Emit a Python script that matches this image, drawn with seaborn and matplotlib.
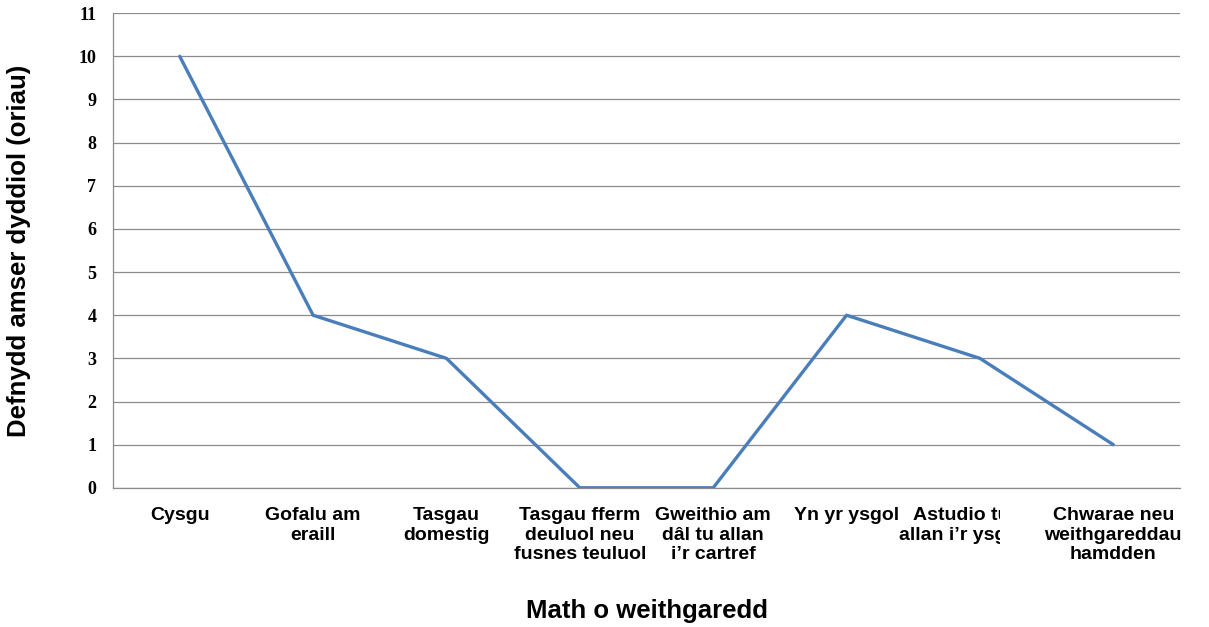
import matplotlib
matplotlib.use('Agg')
import matplotlib.pyplot as plt
import matplotlib.transforms as mtransforms
import pandas as pd
import seaborn as sns

# activity categories and daily hours
categories = ['Cysgu', 'Gofalu am\neraill', 'Tasgau\ndomestig',
              'Tasgau fferm\ndeuluol neu\nfusnes teuluol',
              'Gweithio am\ndâl tu allan\ni\u2019r cartref', 'Yn yr ysgol',
              'Astudio tu\nallan i\u2019r ysgol', 'Chwarae neu\nweithgareddau\nhamdden']
hours = [10, 4, 3, 0, 0, 4, 3, 1]
yticks = list(range(0, 12))

df = pd.DataFrame({'pos': range(len(categories)), 'hours': hours})

sns.set_style('white')
plt.rcParams['font.family'] = ['Liberation Sans', 'DejaVu Sans']
plt.rcParams['text.color'] = 'black'
plt.rcParams['axes.labelcolor'] = 'black'
plt.rcParams['ytick.labelcolor'] = 'black'

fig = plt.figure(figsize=(12.09, 6.27), dpi=100)
ax = fig.add_axes([0.0935, 0.222, 0.8825, 0.757])

sns.lineplot(data=df, x='pos', y='hours', ax=ax, color='#4A7EBB', linewidth=2.4)

ax.set_xlim(-0.5, len(categories) - 0.5)
ax.set_ylim(0, 11)

# horizontal gridlines
ax.set_yticks(yticks)
ax.yaxis.grid(True, color='#8C8C8C', linewidth=0.9)
ax.set_axisbelow(True)
ax.tick_params(axis='y', length=5, color='#8C8C8C', width=0.9, pad=7)
for lab in ax.get_yticklabels():
    lab.set_fontfamily(['Liberation Serif', 'DejaVu Serif'])
    lab.set_fontweight('bold')
    lab.set_fontsize(13)

# category boundaries as tick marks
ax.set_xticks([i - 0.5 for i in range(len(categories) + 1)])
ax.set_xticklabels([])
ax.tick_params(axis='x', length=5, color='#8C8C8C', width=0.9)

for side in ['top', 'right']:
    ax.spines[side].set_visible(False)
for side in ['left', 'bottom']:
    ax.spines[side].set_color('#8C8C8C')
    ax.spines[side].set_linewidth(0.9)

# category labels below the axis
offset = mtransforms.offset_copy(ax.get_xaxis_transform(), fig=fig, x=0, y=-14, units='points')
for i, lab in enumerate(categories):
    x = i
    if i == 6:
        x = i - 0.14
    t = ax.text(x, 0, lab, transform=offset, ha='center', va='top',
                fontsize=14, fontweight='bold', linespacing=1.2)
    if i == 6:
        # the reference cuts this label off at its right side
        box = mtransforms.TransformedBbox(
            mtransforms.Bbox.from_extents(i - 1, -1, i + 0.15, 0), ax.get_xaxis_transform())
        t.set_clip_box(box)
        t.set_clip_on(True)

ax.set_xlabel('Math o weithgaredd', fontsize=18.5, fontweight='bold')
ax.set_ylabel('Defnydd amser dyddiol (oriau)', fontsize=18.5, fontweight='bold')
ax.xaxis.set_label_coords(0.5, -0.235)
ax.yaxis.set_label_coords(-0.077, 0.5)

fig.savefig('out.png', dpi=100)
